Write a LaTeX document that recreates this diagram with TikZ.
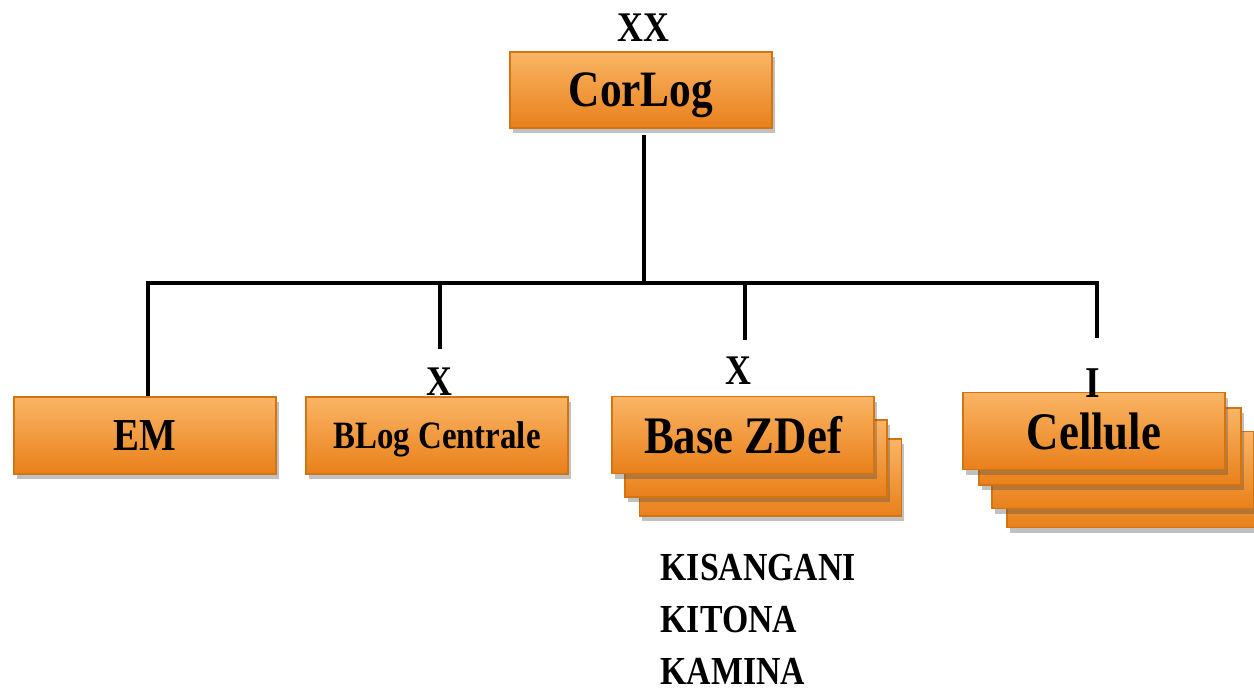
\documentclass[tikz,border=0pt]{standalone}
\usepackage{fontspec}
\newfontfamily\cfont{Liberation Serif}[FakeStretch=0.85]
\usetikzlibrary{shadows}
\definecolor{otop}{HTML}{FAB565}
\definecolor{omid}{HTML}{F7962A}
\definecolor{obot}{HTML}{E9801A}
\definecolor{oedge}{HTML}{D27412}
\begin{document}
\begin{tikzpicture}[x=0.01cm,y=-0.01cm,
  box/.style={rectangle, minimum width=2.62cm, minimum height=0.77cm, inner sep=0pt,
    text depth=0pt,
    top color=otop, middle color=omid, bottom color=obot, draw=oedge, line width=0.4pt,
    drop shadow={shadow xshift=0.8pt, shadow yshift=-1.5pt, opacity=0.35, fill=black!70},
    font=\cfont\bfseries},
  lab/.style={inner sep=0pt, font=\cfont\bfseries},
  conn/.style={line width=1.2pt, black}]
\useasboundingbox (0,0) rectangle (1254,692);
\clip (0,0) rectangle (1254,692);

% top
\node[lab] (xx) at (643,28) {\fontsize{12}{14}\selectfont XX};
\node[box, minimum height=0.76cm] (corlog) at (641,90) {\fontsize{14.5}{16}\selectfont CorLog};

% bus coordinates
\coordinate (top) at (644,135);
\coordinate (hub) at (644,283);
\coordinate (bEM) at (148,283);
\coordinate (bBL) at (440,283);
\coordinate (bZD) at (745,283);
\coordinate (bCE) at (1097,283);
\coordinate (eBL) at (440,349);
\coordinate (eZD) at (745,340);
\coordinate (eCE) at (1097,338);

% level 2 boxes
\node[box] (em) at (145,435.5) {\fontsize{13}{15}\selectfont EM};
\node[box] (blog) at (437,435.5) {\fontsize{11}{13}\selectfont BLog Centrale};

\node[box] (zdef3) at (770.5,477.5) {};
\node[box] (zdef2) at (756,458.5) {};
\node[box] (zdef) at (743,435) {\fontsize{15}{17}\selectfont Base ZDef};

\node[box] (cell4) at (1138,489) {};
\node[box] (cell3) at (1123,470) {};
\node[box] (cell2) at (1110,446.5) {};
\node[box] (cell) at (1094,431) {\fontsize{15}{17}\selectfont Cellule};

% echelon labels
\node[lab] (x1) at (439,382) {\fontsize{12}{14}\selectfont X};
\node[lab] (x2) at (738,371) {\fontsize{12}{14}\selectfont X};
\node[lab] (i1) at (1093,383) {\fontsize{12.5}{14}\selectfont I};

% connectors
\draw[conn] (top) -- (hub);
\draw[conn, line cap=rect] (bEM) -- (bCE);
\draw[conn] (bEM) -- (bEM |- em.north);
\draw[conn] (bBL) -- (eBL);
\draw[conn] (bZD) -- (eZD);
\draw[conn] (bCE) -- (eCE);

% list
\node[lab, anchor=west, align=left, font=\cfont\bfseries\fontsize{11.3}{14.8}\selectfont] (list) at (660,619)
  {KISANGANI\\KITONA\\KAMINA};
\end{tikzpicture}
\end{document}
